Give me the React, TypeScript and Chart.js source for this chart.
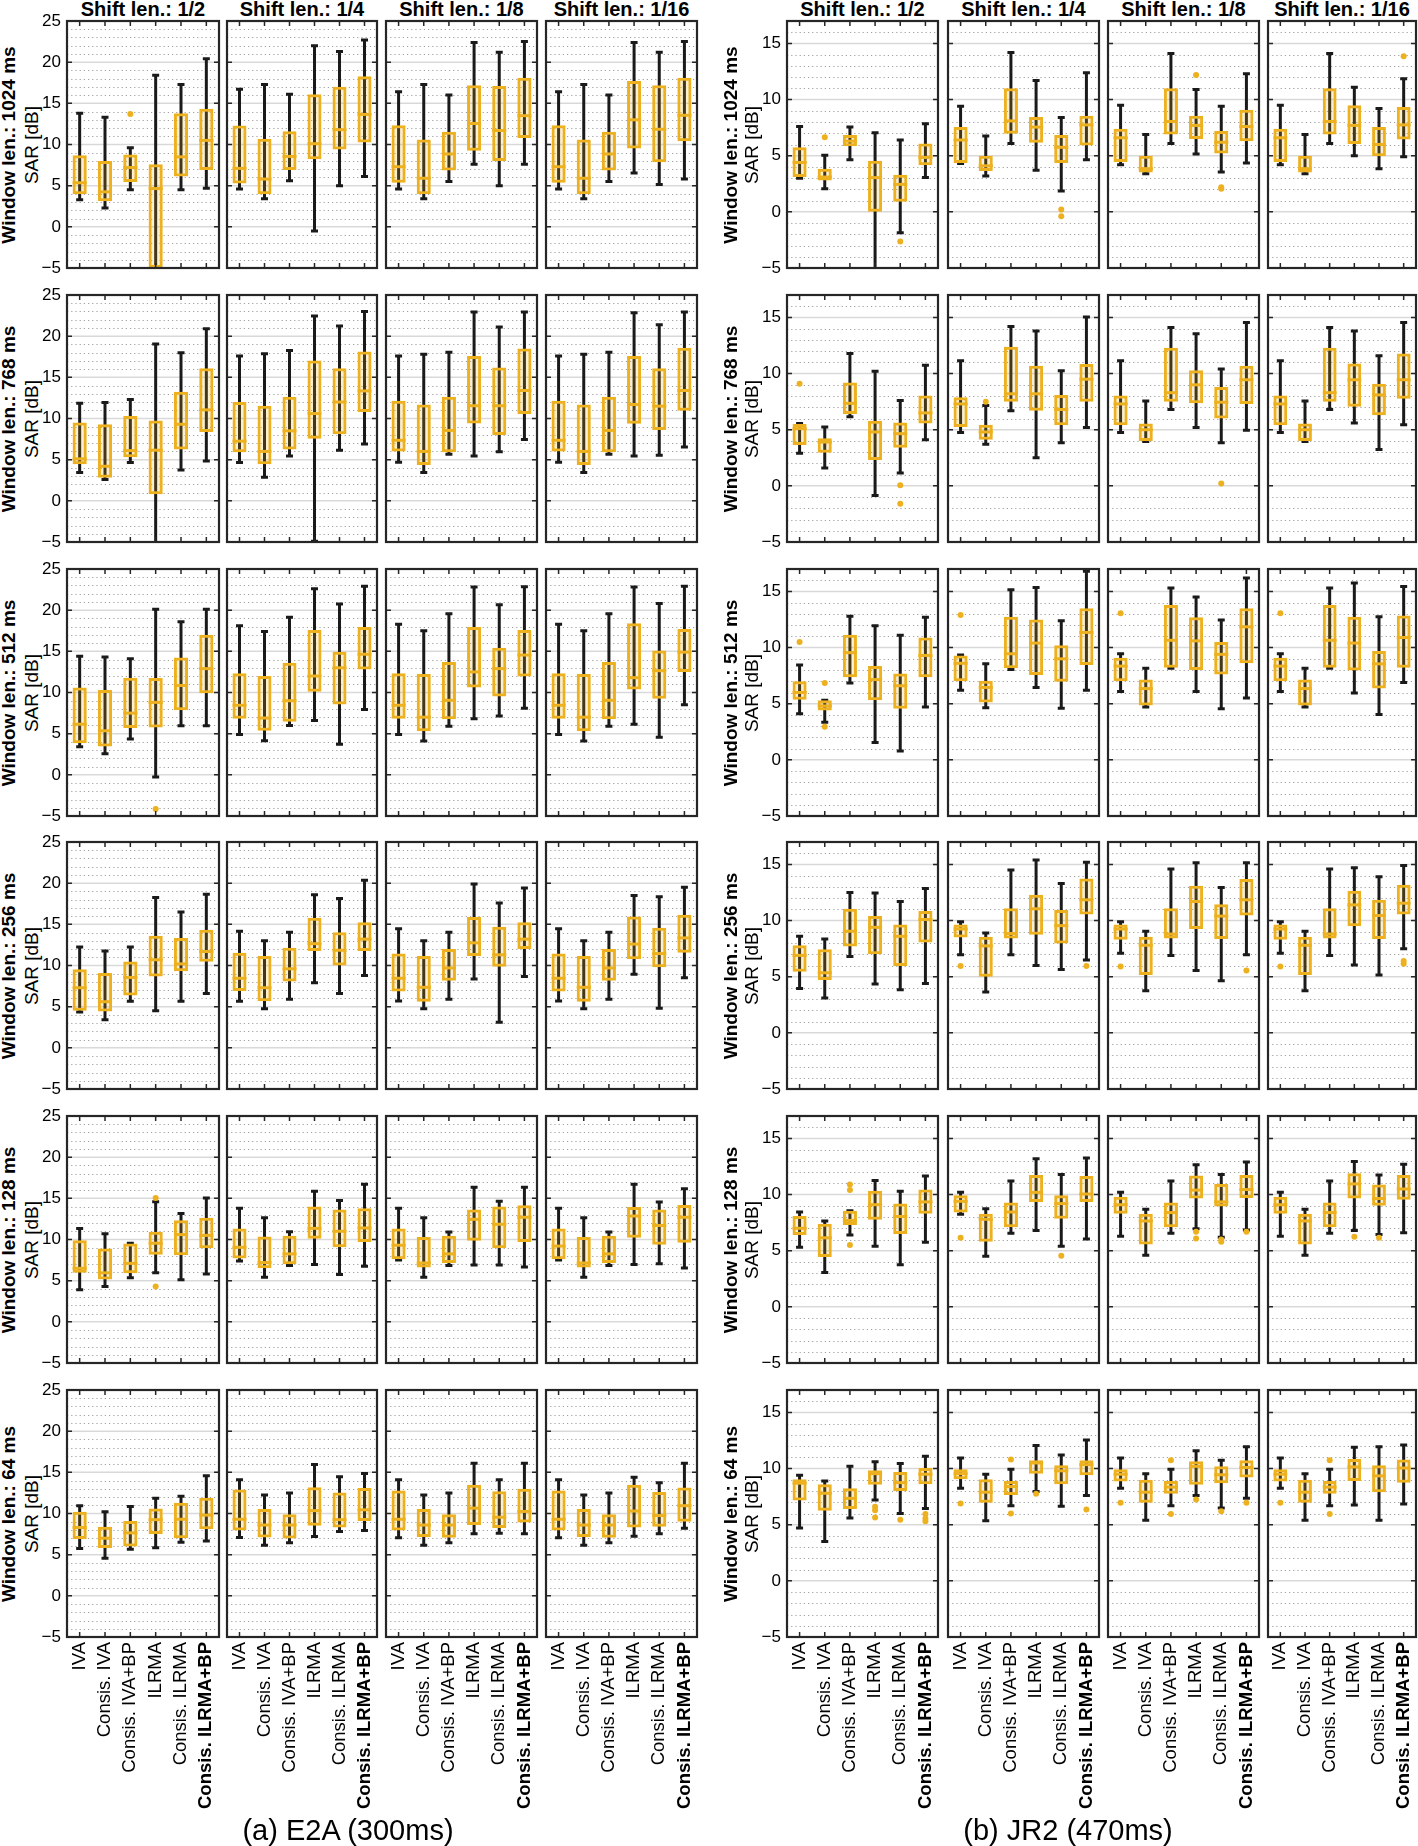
import React, { useEffect, useRef } from "react";
import { Chart, registerables } from "chart.js";
Chart.register(...registerables);

// ---------- categories & labels ----------
const methods = ["IVA", "Consis. IVA", "Consis. IVA+BP", "ILRMA", "Consis. ILRMA", "Consis. ILRMA+BP"];
const windowLens = ["1024", "768", "512", "256", "128", "64"];
const shiftLens = ["1/2", "1/4", "1/8", "1/16"];
const e2aTicks = [-5, 0, 5, 10, 15, 20, 25];
const jr2Ticks = [-5, 0, 5, 10, 15];

// each box: [lower whisker, q1, median, q3, upper whisker]
// ---------- (a) E2A ----------
const e2a_1024_s2 = [[3.3, 3.95, 5.35, 8.7, 13.8], [2.3, 3.1, 4.25, 8.0, 13.3], [4.5, 5.45, 7.2, 8.8, 9.6], [-8, -5, 4.65, 7.6, 18.4], [4.5, 6.1, 8.5, 13.8, 17.3], [4.7, 6.9, 10.5, 14.35, 20.4]];
const e2a_1024_s4 = [[4.6, 5.25, 7.1, 12.3, 16.7], [3.4, 3.95, 5.8, 10.7, 17.3], [5.6, 6.9, 8.55, 11.6, 16.1], [-0.5, 8.2, 10.1, 16.1, 22.0], [5.0, 9.4, 11.8, 17.0, 21.3], [6.1, 10.25, 13.65, 18.3, 22.7]];
const e2a_1024_s8 = [[4.6, 5.35, 7.3, 12.35, 16.4], [3.4, 3.95, 5.9, 10.6, 17.3], [5.5, 6.85, 8.85, 11.55, 16.0], [7.6, 9.25, 12.55, 17.2, 22.4], [5.0, 8.0, 11.7, 17.1, 21.2], [7.6, 10.8, 13.5, 18.1, 22.5]];
const e2a_1024_s16 = [[4.6, 5.35, 7.3, 12.35, 16.4], [3.4, 3.95, 5.9, 10.6, 17.3], [5.5, 6.85, 8.85, 11.55, 16.0], [6.55, 9.5, 13.0, 17.7, 22.4], [5.15, 7.85, 11.85, 17.2, 21.2], [5.8, 10.4, 13.55, 18.1, 22.5]];
const e2a_768_s2 = [[3.45, 4.45, 5.1, 9.5, 11.85], [2.6, 2.8, 4.2, 9.3, 11.95], [4.65, 5.3, 6.1, 10.3, 12.3], [-8, 0.8, 6.15, 9.75, 19.05], [3.75, 6.25, 9.3, 13.25, 18.0], [4.85, 8.35, 11.05, 16.1, 20.9]];
const e2a_768_s4 = [[4.65, 5.9, 7.25, 12.0, 17.6], [2.85, 4.45, 6.0, 11.55, 17.85], [5.45, 6.25, 8.5, 12.65, 18.25], [-4.9, 7.55, 10.6, 17.05, 22.45], [6.15, 8.1, 12.0, 16.1, 21.25], [6.9, 10.8, 13.35, 18.15, 23.0]];
const e2a_768_s8 = [[4.7, 6.0, 7.35, 12.15, 17.6], [3.45, 4.35, 6.0, 11.7, 17.8], [5.65, 5.9, 8.55, 12.65, 18.05], [5.45, 9.4, 11.55, 17.6, 22.95], [5.95, 8.0, 11.55, 16.2, 21.1], [7.45, 10.55, 13.4, 18.5, 22.95]];
const e2a_768_s16 = [[4.7, 6.0, 7.35, 12.15, 17.6], [3.45, 4.35, 6.0, 11.7, 17.8], [5.65, 5.9, 8.55, 12.65, 18.05], [5.45, 9.35, 11.7, 17.6, 22.85], [5.55, 8.6, 11.5, 16.1, 21.4], [6.55, 10.95, 13.4, 18.6, 22.95]];
const e2a_512_s2 = [[3.4, 3.85, 6.15, 10.6, 14.4], [2.55, 3.45, 5.35, 10.3, 14.3], [4.35, 5.7, 7.5, 11.8, 14.1], [-0.25, 5.75, 8.8, 11.75, 20.1], [5.95, 7.85, 10.85, 14.25, 18.6], [5.95, 9.9, 12.9, 17.0, 20.1]];
const e2a_512_s4 = [[4.9, 6.8, 8.45, 12.35, 18.1], [4.15, 5.35, 6.9, 12.0, 17.4], [6.0, 6.45, 9.0, 13.6, 19.15], [6.6, 10.1, 12.0, 17.6, 22.6], [3.7, 8.55, 13.0, 14.95, 20.75], [7.95, 12.8, 14.65, 17.95, 22.9]];
const e2a_512_s8 = [[4.9, 6.8, 8.45, 12.35, 18.3], [4.1, 5.3, 7.0, 12.25, 17.5], [5.9, 6.75, 9.05, 13.7, 19.55], [6.8, 10.6, 12.5, 17.95, 22.8], [7.15, 9.5, 12.9, 15.45, 20.65], [8.1, 11.95, 14.55, 17.6, 22.85]];
const e2a_512_s16 = [[4.9, 6.8, 8.45, 12.35, 18.3], [4.1, 5.3, 7.0, 12.25, 17.5], [5.9, 6.75, 9.05, 13.7, 19.55], [6.15, 10.35, 11.8, 18.4, 22.8], [4.55, 9.25, 12.65, 15.1, 20.8], [8.5, 12.5, 14.9, 17.7, 22.9]];
const e2a_256_s2 = [[4.35, 4.5, 7.3, 9.55, 12.25], [3.4, 4.4, 5.6, 9.1, 11.75], [5.65, 6.35, 8.55, 10.5, 12.25], [4.5, 8.65, 10.7, 13.6, 18.25], [5.65, 9.3, 10.2, 13.35, 16.5], [6.6, 10.45, 11.7, 14.35, 18.65]];
const e2a_256_s4 = [[5.65, 6.9, 8.45, 11.55, 14.15], [4.75, 5.65, 7.3, 11.15, 13.0], [5.9, 8.05, 9.6, 12.15, 14.05], [7.9, 11.75, 12.65, 15.8, 18.6], [6.6, 10.0, 11.85, 14.05, 18.15], [8.8, 11.75, 13.2, 15.25, 20.35]];
const e2a_256_s8 = [[5.7, 6.85, 8.45, 11.45, 14.45], [4.75, 5.6, 7.35, 11.15, 13.0], [5.9, 8.15, 9.7, 12.0, 14.05], [8.35, 11.15, 12.75, 15.9, 19.9], [3.1, 9.85, 11.3, 14.7, 17.6], [8.65, 12.0, 13.2, 15.25, 19.4]];
const e2a_256_s16 = [[5.7, 6.85, 8.45, 11.45, 14.45], [4.75, 5.6, 7.35, 11.15, 13.0], [5.9, 8.15, 9.7, 12.0, 14.05], [8.95, 10.75, 12.6, 15.95, 18.5], [4.8, 9.8, 11.45, 14.6, 18.35], [8.5, 11.55, 13.35, 16.15, 19.5]];
const e2a_128_s2 = [[3.9, 5.95, 6.5, 9.9, 11.35], [4.3, 5.15, 5.95, 8.9, 10.7], [5.35, 5.9, 7.1, 9.5, 9.55], [5.95, 8.15, 9.55, 10.95, 14.6], [5.1, 8.1, 10.6, 12.35, 13.15], [5.8, 8.95, 10.5, 12.65, 15.05]];
const e2a_128_s4 = [[7.4, 7.7, 9.05, 11.35, 13.8], [5.4, 6.5, 7.2, 10.35, 12.65], [6.85, 7.0, 8.25, 10.45, 10.95], [6.95, 10.1, 11.35, 14.0, 15.85], [5.75, 9.05, 11.0, 13.65, 14.75], [6.75, 9.7, 11.4, 13.8, 16.7]];
const e2a_128_s8 = [[7.5, 7.6, 9.3, 11.35, 13.8], [5.4, 6.6, 7.15, 10.3, 12.65], [6.85, 7.15, 8.25, 10.45, 10.9], [6.9, 9.85, 12.45, 13.65, 16.35], [6.9, 8.95, 11.85, 14.0, 14.65], [6.65, 9.7, 12.7, 14.15, 16.35]];
const e2a_128_s16 = [[7.5, 7.6, 9.2, 11.35, 13.8], [5.4, 6.6, 7.15, 10.3, 12.65], [6.85, 7.15, 8.25, 10.45, 10.9], [6.95, 10.2, 12.85, 13.95, 16.7], [7.05, 9.35, 11.7, 13.65, 14.55], [6.55, 9.6, 12.7, 14.2, 16.15]];
const e2a_64_s2 = [[5.75, 6.9, 8.3, 10.2, 10.95], [4.55, 5.8, 7.0, 8.4, 10.2], [5.65, 6.0, 7.65, 9.1, 10.85], [5.85, 7.5, 9.25, 10.6, 11.85], [6.5, 7.0, 9.3, 11.3, 12.1], [6.65, 8.1, 9.8, 11.9, 14.6]];
const e2a_64_s4 = [[7.1, 7.95, 9.3, 12.9, 14.1], [6.15, 7.1, 8.6, 10.55, 12.25], [6.45, 6.95, 8.6, 9.9, 12.5], [7.2, 8.5, 10.35, 13.2, 15.95], [7.8, 8.3, 9.25, 12.55, 14.45], [7.95, 9.1, 10.45, 13.1, 14.85]];
const e2a_64_s8 = [[7.05, 7.95, 9.3, 12.8, 14.1], [6.15, 7.15, 8.6, 10.55, 12.25], [6.45, 7.05, 8.6, 9.9, 12.5], [7.55, 8.6, 10.65, 13.5, 16.1], [7.6, 8.25, 9.55, 12.7, 14.1], [7.55, 8.9, 10.25, 13.0, 16.1]];
const e2a_64_s16 = [[7.05, 7.95, 9.3, 12.8, 14.1], [6.15, 7.15, 8.6, 10.55, 12.25], [6.45, 7.05, 8.6, 9.9, 12.5], [7.25, 8.3, 10.3, 13.5, 14.4], [7.55, 8.4, 9.75, 12.6, 13.75], [8.2, 9.0, 10.95, 13.15, 16.1]];

// outliers: [category index, value]
const e2a_1024_s2_out = [[2, 13.7]];
const e2a_512_s2_out = [[3, -4.15]];
const e2a_128_s2_out = [[3, 15.05], [3, 4.3]];

// ---------- (b) JR2 ----------
const jr2_1024_s2 = [[3.0, 3.1, 4.4, 5.75, 7.6], [2.05, 2.8, 3.1, 3.85, 5.05], [4.65, 5.85, 6.3, 6.85, 7.55], [-8, 0, 3.05, 4.55, 7.05], [-1.85, 0.9, 2.45, 3.3, 6.4], [3.05, 4.15, 4.85, 6.1, 7.85]];
const jr2_1024_s4 = [[4.3, 4.35, 6.4, 7.55, 9.4], [3.2, 3.65, 4.1, 5.0, 6.75], [6.1, 6.95, 8.1, 11.0, 14.2], [3.7, 6.15, 7.55, 8.45, 11.7], [1.85, 4.35, 5.75, 6.85, 8.4], [4.65, 5.9, 7.75, 8.55, 12.4]];
const jr2_1024_s8 = [[4.2, 4.45, 6.6, 7.4, 9.5], [3.4, 3.5, 3.85, 5.0, 6.9], [6.1, 6.9, 8.05, 11.0, 14.1], [5.15, 6.5, 7.7, 8.55, 10.9], [3.55, 5.2, 6.2, 7.2, 9.4], [4.35, 6.3, 7.6, 9.1, 12.3]];
const jr2_1024_s16 = [[4.2, 4.45, 6.6, 7.4, 9.5], [3.4, 3.5, 3.85, 5.0, 6.9], [6.1, 6.9, 8.05, 11.0, 14.1], [5.0, 6.05, 7.7, 9.5, 11.1], [3.85, 4.95, 6.0, 7.55, 9.2], [4.9, 6.45, 7.75, 9.35, 11.85]];
const jr2_768_s2 = [[2.9, 3.65, 5.1, 5.5, 5.55], [1.6, 2.95, 3.9, 4.25, 5.25], [6.15, 6.4, 7.35, 9.2, 11.8], [-0.85, 2.3, 4.8, 5.8, 10.2], [1.15, 3.4, 4.65, 5.65, 7.6], [4.1, 5.55, 6.5, 8.05, 10.75]];
const jr2_768_s4 = [[4.75, 5.25, 7.3, 7.9, 11.15], [3.7, 4.1, 4.8, 5.45, 7.15], [6.7, 7.5, 8.2, 12.4, 14.2], [2.5, 6.7, 8.2, 10.7, 13.8], [3.85, 5.4, 6.8, 8.1, 10.25], [5.2, 7.5, 9.5, 10.85, 15.05]];
const jr2_768_s8 = [[4.75, 5.4, 7.3, 8.05, 11.15], [3.95, 4.0, 5.0, 5.55, 7.55], [6.8, 7.5, 8.3, 12.3, 14.1], [5.2, 7.35, 9.0, 10.3, 13.55], [3.85, 6.0, 7.45, 8.8, 10.4], [4.95, 7.3, 9.45, 10.7, 14.55]];
const jr2_768_s16 = [[4.75, 5.4, 7.3, 8.05, 11.15], [3.95, 4.0, 5.0, 5.55, 7.55], [6.8, 7.5, 8.3, 12.3, 14.1], [5.6, 7.05, 9.45, 10.9, 13.8], [3.25, 6.3, 8.1, 9.1, 11.6], [5.45, 7.75, 9.45, 11.8, 14.55]];
const jr2_512_s2 = [[4.1, 5.35, 6.0, 7.0, 8.45], [3.35, 4.4, 4.8, 5.3, 5.3], [6.85, 7.35, 9.55, 11.15, 12.8], [1.55, 5.3, 7.15, 8.35, 11.95], [0.8, 4.55, 6.6, 7.7, 11.1], [4.7, 7.35, 9.3, 10.9, 12.7]];
const jr2_512_s4 = [[6.2, 7.0, 8.6, 9.3, 9.35], [4.65, 5.1, 6.45, 7.05, 8.55], [8.05, 8.15, 9.45, 12.75, 15.15], [6.45, 7.55, 10.4, 12.5, 15.35], [4.6, 6.95, 9.0, 10.2, 12.4], [6.2, 8.45, 11.35, 13.5, 16.8]];
const jr2_512_s8 = [[6.1, 7.0, 8.35, 9.1, 9.45], [4.7, 4.85, 6.35, 7.15, 8.15], [8.15, 8.2, 10.65, 13.8, 15.3], [6.1, 8.0, 10.6, 12.7, 14.5], [4.55, 7.6, 9.4, 10.5, 12.45], [5.5, 8.6, 11.85, 13.5, 16.2]];
const jr2_512_s16 = [[6.1, 7.0, 8.35, 9.1, 9.45], [4.7, 4.85, 6.35, 7.15, 8.15], [8.15, 8.2, 10.65, 13.8, 15.3], [5.95, 7.95, 10.4, 12.75, 15.75], [4.05, 6.35, 8.55, 9.7, 12.75], [6.9, 8.2, 10.9, 12.85, 15.45]];
const jr2_256_s2 = [[3.95, 5.45, 6.9, 7.8, 8.6], [3.1, 4.7, 5.35, 7.45, 8.35], [6.8, 7.7, 9.05, 11.05, 12.5], [4.35, 7.0, 9.4, 10.4, 12.45], [3.85, 5.95, 8.6, 9.65, 11.7], [4.4, 8.05, 10.1, 10.85, 12.85]];
const jr2_256_s4 = [[6.95, 8.5, 9.25, 9.65, 9.9], [3.65, 5.0, 7.75, 8.55, 8.9], [6.95, 8.4, 8.85, 11.1, 14.5], [6.0, 8.75, 11.05, 12.3, 15.4], [5.65, 7.95, 9.55, 10.95, 13.3], [6.5, 10.55, 11.85, 13.75, 15.2]];
const jr2_256_s8 = [[7.1, 8.3, 9.25, 9.65, 9.9], [3.75, 5.15, 7.8, 8.55, 9.05], [6.9, 8.4, 8.8, 11.1, 14.6], [5.55, 9.25, 11.7, 13.1, 15.15], [4.65, 8.35, 10.4, 11.45, 12.95], [6.95, 10.45, 11.85, 13.7, 15.15]];
const jr2_256_s16 = [[7.1, 8.3, 9.25, 9.65, 9.9], [3.75, 5.15, 7.8, 8.55, 9.05], [6.9, 8.4, 8.8, 11.1, 14.6], [6.05, 9.5, 11.4, 12.65, 14.7], [5.15, 8.35, 10.45, 11.85, 13.9], [7.5, 10.55, 11.55, 13.2, 14.9]];
const jr2_128_s2 = [[5.3, 6.4, 7.0, 8.1, 8.45], [3.05, 4.45, 6.15, 7.4, 7.65], [6.4, 7.3, 7.7, 8.55, 8.55], [5.4, 7.75, 9.1, 10.35, 11.25], [3.75, 6.5, 8.05, 9.2, 10.3], [5.75, 8.3, 9.35, 10.45, 11.65]];
const jr2_128_s4 = [[8.25, 8.4, 9.4, 9.95, 10.2], [4.5, 5.8, 7.8, 8.3, 8.75], [6.55, 7.1, 8.45, 9.3, 11.2], [6.8, 9.35, 10.2, 11.75, 13.2], [5.4, 7.85, 9.2, 9.95, 11.8], [6.05, 9.35, 10.05, 11.65, 13.25]];
const jr2_128_s8 = [[6.3, 8.3, 9.1, 9.8, 10.2], [4.6, 5.55, 7.65, 8.3, 8.7], [6.55, 7.1, 8.4, 9.3, 11.2], [6.95, 9.65, 10.4, 11.7, 12.65], [6.2, 8.95, 9.35, 10.95, 11.8], [6.85, 9.7, 10.45, 11.75, 12.9]];
const jr2_128_s16 = [[6.3, 8.3, 9.1, 9.8, 10.2], [4.6, 5.55, 7.65, 8.3, 8.7], [6.55, 7.1, 8.4, 9.3, 11.2], [6.8, 9.65, 10.95, 11.9, 12.95], [6.45, 9.0, 9.65, 10.9, 11.75], [6.6, 9.55, 10.5, 11.75, 12.7]];
const jr2_64_s2 = [[4.7, 7.15, 8.7, 9.05, 9.4], [3.5, 6.25, 7.8, 8.6, 8.9], [5.6, 6.4, 7.35, 8.25, 10.2], [7.2, 8.55, 9.55, 9.85, 10.6], [6.0, 8.0, 8.75, 9.7, 10.45], [6.45, 8.6, 9.5, 10.05, 11.1]];
const jr2_64_s4 = [[8.25, 9.05, 9.55, 9.95, 10.95], [5.35, 6.95, 7.9, 9.05, 9.5], [6.7, 7.65, 8.4, 8.9, 9.95], [7.95, 9.55, 10.5, 10.75, 12.05], [6.65, 8.6, 9.8, 10.3, 11.2], [7.6, 9.4, 10.35, 10.75, 12.55]];
const jr2_64_s8 = [[8.25, 8.85, 9.5, 9.95, 10.95], [5.4, 6.95, 7.9, 9.0, 9.55], [6.7, 7.75, 8.35, 8.9, 9.95], [7.6, 8.55, 10.2, 10.65, 11.6], [6.5, 8.7, 9.45, 10.2, 10.75], [7.35, 9.2, 10.1, 10.75, 11.95]];
const jr2_64_s16 = [[8.25, 8.85, 9.5, 9.95, 10.95], [5.4, 6.95, 7.9, 9.0, 9.55], [6.7, 7.75, 8.35, 8.9, 9.95], [6.75, 8.9, 10.15, 10.85, 11.9], [5.4, 7.9, 9.35, 10.3, 11.95], [6.85, 8.75, 10.05, 10.8, 12.1]];

const jr2_1024_s2_out = [[1, 6.65], [4, -2.65]];
const jr2_1024_s4_out = [[4, 0.2], [4, -0.4]];
const jr2_1024_s8_out = [[3, 12.2], [4, 2.2], [4, 2.05]];
const jr2_1024_s16_out = [[5, 13.85]];
const jr2_768_s2_out = [[0, 9.1], [4, 0.05], [4, -1.6]];
const jr2_768_s4_out = [[1, 7.5]];
const jr2_768_s8_out = [[4, 0.2]];
const jr2_512_s2_out = [[0, 10.5], [1, 6.85], [1, 2.95]];
const jr2_512_s4_out = [[0, 12.9]];
const jr2_512_s8_out = [[0, 13.05]];
const jr2_512_s16_out = [[0, 13.05]];
const jr2_256_s4_out = [[0, 5.95], [5, 5.95]];
const jr2_256_s8_out = [[0, 5.9], [5, 5.55]];
const jr2_256_s16_out = [[0, 5.9], [5, 6.4], [5, 6.15]];
const jr2_128_s2_out = [[2, 10.9], [2, 10.4], [2, 5.5]];
const jr2_128_s4_out = [[0, 6.15], [4, 4.55]];
const jr2_128_s8_out = [[3, 6.7], [3, 6.1], [4, 6.0], [4, 5.8], [5, 6.7]];
const jr2_128_s16_out = [[3, 6.25], [4, 6.15]];
const jr2_64_s2_out = [[3, 6.6], [3, 6.3], [3, 5.65], [4, 5.45], [5, 5.95], [5, 5.55], [5, 5.3]];
const jr2_64_s4_out = [[0, 6.9], [2, 10.8], [2, 6.0], [3, 7.75], [5, 6.35]];
const jr2_64_s8_out = [[0, 6.95], [2, 10.75], [2, 5.95], [3, 7.25], [4, 6.2], [5, 6.95]];
const jr2_64_s16_out = [[0, 6.95], [2, 10.75], [2, 5.95]];

const none: number[][] = [];

// tables built from the named arrays
const e2aPanels = [
  [e2a_1024_s2, e2a_1024_s4, e2a_1024_s8, e2a_1024_s16],
  [e2a_768_s2, e2a_768_s4, e2a_768_s8, e2a_768_s16],
  [e2a_512_s2, e2a_512_s4, e2a_512_s8, e2a_512_s16],
  [e2a_256_s2, e2a_256_s4, e2a_256_s8, e2a_256_s16],
  [e2a_128_s2, e2a_128_s4, e2a_128_s8, e2a_128_s16],
  [e2a_64_s2, e2a_64_s4, e2a_64_s8, e2a_64_s16],
];
const e2aOuts = [
  [e2a_1024_s2_out, none, none, none],
  [none, none, none, none],
  [e2a_512_s2_out, none, none, none],
  [none, none, none, none],
  [e2a_128_s2_out, none, none, none],
  [none, none, none, none],
];
const jr2Panels = [
  [jr2_1024_s2, jr2_1024_s4, jr2_1024_s8, jr2_1024_s16],
  [jr2_768_s2, jr2_768_s4, jr2_768_s8, jr2_768_s16],
  [jr2_512_s2, jr2_512_s4, jr2_512_s8, jr2_512_s16],
  [jr2_256_s2, jr2_256_s4, jr2_256_s8, jr2_256_s16],
  [jr2_128_s2, jr2_128_s4, jr2_128_s8, jr2_128_s16],
  [jr2_64_s2, jr2_64_s4, jr2_64_s8, jr2_64_s16],
];
const jr2Outs = [
  [jr2_1024_s2_out, jr2_1024_s4_out, jr2_1024_s8_out, jr2_1024_s16_out],
  [jr2_768_s2_out, jr2_768_s4_out, jr2_768_s8_out, none],
  [jr2_512_s2_out, jr2_512_s4_out, jr2_512_s8_out, jr2_512_s16_out],
  [none, jr2_256_s4_out, jr2_256_s8_out, jr2_256_s16_out],
  [jr2_128_s2_out, jr2_128_s4_out, jr2_128_s8_out, jr2_128_s16_out],
  [jr2_64_s2_out, jr2_64_s4_out, jr2_64_s8_out, jr2_64_s16_out],
];

// ---------- styling / layout ----------
const FONT = '"Liberation Sans", Arial, Helvetica, sans-serif';
const ORANGE = "#EDB120";
const FILL = "rgba(237,177,32,0.2)";
const INK = "#262626";
const PLOT_H = 247;
const rowTop = (r: number) => Math.round(21 + 273.8 * r);
const leftCols = [67, 227, 386, 546];
const leftW = [152, 150, 151, 151];
const rightCols = [787, 948, 1108, 1268];
const rightW = [151, 151, 151, 148];

const fmt = (v: number) => (v < 0 ? "\u2212" + Math.abs(v) : String(v));

function decoPlugin(boxes: number[][], ticks: number[], yMin: number, yMax: number) {
  return {
    id: "boxdeco",
    beforeDatasetsDraw(chart: any) {
      const { ctx, chartArea: a, scales } = chart;
      const ys = scales.y;
      const xs = scales.x;
      ctx.save();
      ctx.beginPath();
      ctx.rect(a.left, a.top, a.right - a.left, a.bottom - a.top);
      ctx.clip();
      ctx.strokeStyle = "#a0a0a0";
      ctx.lineWidth = 1.2;
      ctx.setLineDash([1.2, 3]);
      for (let v = Math.ceil(yMin); v <= yMax; v++) {
        if (v % 5 === 0) continue;
        const py = Math.round(ys.getPixelForValue(v)) + 0.5;
        ctx.beginPath();
        ctx.moveTo(a.left, py);
        ctx.lineTo(a.right, py);
        ctx.stroke();
      }
      ctx.setLineDash([]);
      ctx.strokeStyle = "#d9d9d9";
      ctx.lineWidth = 1.5;
      ticks.forEach((v) => {
        const py = ys.getPixelForValue(v);
        ctx.beginPath();
        ctx.moveTo(a.left, py);
        ctx.lineTo(a.right, py);
        ctx.stroke();
      });
      ctx.strokeStyle = "#1a1a1a";
      ctx.lineWidth = 3;
      boxes.forEach((b, i) => {
        const px = xs.getPixelForValue(i);
        const lo = ys.getPixelForValue(b[0]);
        const hi = ys.getPixelForValue(b[4]);
        ctx.beginPath();
        ctx.moveTo(px, lo);
        ctx.lineTo(px, hi);
        ctx.stroke();
        ctx.beginPath();
        ctx.moveTo(px - 3.5, lo);
        ctx.lineTo(px + 3.5, lo);
        ctx.moveTo(px - 3.5, hi);
        ctx.lineTo(px + 3.5, hi);
        ctx.stroke();
      });
      ctx.restore();
    },
    afterDatasetsDraw(chart: any) {
      const { ctx, chartArea: a, scales } = chart;
      const ys = scales.y;
      const xs = scales.x;
      const meta = chart.getDatasetMeta(1);
      ctx.save();
      ctx.beginPath();
      ctx.rect(a.left, a.top, a.right - a.left, a.bottom - a.top);
      ctx.clip();
      ctx.strokeStyle = ORANGE;
      ctx.lineWidth = 3;
      boxes.forEach((b, i) => {
        const el = meta.data[i];
        const py = ys.getPixelForValue(b[2]);
        ctx.beginPath();
        ctx.moveTo(el.x - el.width / 2, py);
        ctx.lineTo(el.x + el.width / 2, py);
        ctx.stroke();
      });
      ctx.restore();
      ctx.save();
      ctx.strokeStyle = INK;
      ctx.lineWidth = 1.5;
      ticks.forEach((v) => {
        const py = ys.getPixelForValue(v);
        ctx.beginPath();
        ctx.moveTo(a.left, py);
        ctx.lineTo(a.left + 5, py);
        ctx.moveTo(a.right, py);
        ctx.lineTo(a.right - 5, py);
        ctx.stroke();
      });
      boxes.forEach((_, i) => {
        const px = xs.getPixelForValue(i);
        ctx.beginPath();
        ctx.moveTo(px, a.bottom);
        ctx.lineTo(px, a.bottom - 5);
        ctx.moveTo(px, a.top);
        ctx.lineTo(px, a.top + 5);
        ctx.stroke();
      });
      ctx.lineWidth = 2.2;
      ctx.strokeRect(a.left, a.top, a.right - a.left, a.bottom - a.top);
      ctx.restore();
    },
  };
}

type PanelProps = {
  boxes: number[][];
  outs: number[][];
  left: number;
  top: number;
  width: number;
  ticks: number[];
  yMin: number;
  yMax: number;
  showY: boolean;
  showX: boolean;
};

function Panel({ boxes, outs, left, top, width, ticks, yMin, yMax, showY, showX }: PanelProps) {
  const ref = useRef<HTMLCanvasElement>(null);
  const padL = showY ? 50 : 24;
  const padR = 24;
  const padT = 24;
  const padB = showX ? 200 : 24;
  const cw = width + padL + padR;
  const ch = PLOT_H + padT + padB;
  useEffect(() => {
    if (!ref.current) return;
    const chart = new Chart(ref.current, {
      type: "bar",
      data: {
        labels: methods,
        datasets: [
          {
            type: "line",
            data: outs.map(([i, v]) => ({ x: methods[i], y: v })),
            showLine: false,
            pointRadius: 3,
            pointHoverRadius: 3,
            pointBackgroundColor: ORANGE,
            pointBorderColor: ORANGE,
            pointBorderWidth: 0,
            order: 0,
            clip: 0,
          } as any,
          {
            type: "bar",
            data: boxes.map((b) => [b[1], b[3]]),
            backgroundColor: FILL,
            borderColor: ORANGE,
            borderWidth: 3,
            borderSkipped: false,
            barPercentage: 0.56,
            categoryPercentage: 1,
            order: 1,
            clip: 0,
          } as any,
        ],
      },
      options: {
        responsive: false,
        maintainAspectRatio: false,
        animation: false,
        events: [],
        layout: { padding: { left: showY ? 0 : padL, right: padR, top: padT, bottom: showX ? 0 : padB } },
        plugins: { legend: { display: false }, tooltip: { enabled: false }, title: { display: false } },
        scales: {
          x: {
            type: "category",
            offset: true,
            grid: { display: false, drawTicks: false },
            border: { display: false },
            ticks: {
              display: showX,
              autoSkip: false,
              minRotation: 90,
              maxRotation: 90,
              padding: 5,
              color: "#000",
              font: (c: any) => ({ size: 18.5, family: FONT, weight: c.index === 5 ? "bold" : "normal" }),
            },
            afterFit: (s: any) => {
              s.height = showX ? padB : 0;
            },
          },
          y: {
            type: "linear",
            min: yMin,
            max: yMax,
            grid: { display: false, drawTicks: false },
            border: { display: false },
            afterBuildTicks: (s: any) => {
              s.ticks = ticks.map((v) => ({ value: v }));
            },
            ticks: {
              display: showY,
              padding: 6,
              color: "#000",
              font: { size: 17, family: FONT },
              callback: (v: any) => fmt(Number(v)),
            },
            afterFit: (s: any) => {
              s.width = showY ? padL : 0;
            },
          },
        },
      } as any,
      plugins: [decoPlugin(boxes, ticks, yMin, yMax)],
    });
    return () => chart.destroy();
  }, []);
  return (
    <canvas
      ref={ref}
      width={cw}
      height={ch}
      style={{ position: "absolute", left: left - padL, top: top - padT, width: cw, height: ch }}
    />
  );
}

const groups = [
  {
    key: "a",
    panels: e2aPanels,
    outs: e2aOuts,
    cols: leftCols,
    widths: leftW,
    ticks: e2aTicks,
    yMin: -5,
    yMax: 25,
    labelX: [8, 31],
    caption: "(a) E2A (300ms)",
    capX: 348,
  },
  {
    key: "b",
    panels: jr2Panels,
    outs: jr2Outs,
    cols: rightCols,
    widths: rightW,
    ticks: jr2Ticks,
    yMin: -5,
    yMax: 17,
    labelX: [730, 751],
    caption: "(b) JR2 (470ms)",
    capX: 1068,
  },
];

const rotated = (cx: number, cy: number, extra: any) => ({
  position: "absolute" as const,
  left: cx,
  top: cy,
  transform: "translate(-50%, -50%) rotate(-90deg)",
  whiteSpace: "nowrap" as const,
  fontFamily: FONT,
  color: "#000",
  ...extra,
});

export default function App() {
  return (
    <div
      style={{
        position: "absolute",
        left: 0,
        top: 0,
        width: 1418,
        height: 1846,
        overflow: "hidden",
        background: "#fff",
        fontFamily: FONT,
      }}
    >
      {groups.map((g) => (
        <React.Fragment key={g.key}>
          {shiftLens.map((s, c) => (
            <div
              key={"h" + c}
              style={{
                position: "absolute",
                left: g.cols[c] + g.widths[c] / 2,
                top: -2,
                transform: "translateX(-50%)",
                whiteSpace: "nowrap",
                fontSize: 20,
                lineHeight: "22px",
                fontWeight: "bold",
                color: "#000",
              }}
            >
              {"Shift len.: " + s}
            </div>
          ))}
          {windowLens.map((w, r) => (
            <React.Fragment key={"r" + r}>
              <div style={rotated(g.labelX[0], rowTop(r) + PLOT_H / 2, { fontSize: 19, lineHeight: "19px", fontWeight: "bold" })}>
                {"Window len.: " + w + " ms"}
              </div>
              <div style={rotated(g.labelX[1], rowTop(r) + PLOT_H / 2, { fontSize: 19, lineHeight: "19px" })}>SAR [dB]</div>
              {shiftLens.map((_, c) => (
                <Panel
                  key={"p" + r + "-" + c}
                  boxes={g.panels[r][c]}
                  outs={g.outs[r][c]}
                  left={g.cols[c]}
                  top={rowTop(r)}
                  width={g.widths[c]}
                  ticks={g.ticks}
                  yMin={g.yMin}
                  yMax={g.yMax}
                  showY={c === 0}
                  showX={r === windowLens.length - 1}
                />
              ))}
            </React.Fragment>
          ))}
          <div
            style={{
              position: "absolute",
              left: g.capX,
              top: 1830,
              transform: "translate(-50%, -50%)",
              whiteSpace: "nowrap",
              fontSize: 29,
              lineHeight: "32px",
              color: "#000",
            }}
          >
            {g.caption}
          </div>
        </React.Fragment>
      ))}
    </div>
  );
}
